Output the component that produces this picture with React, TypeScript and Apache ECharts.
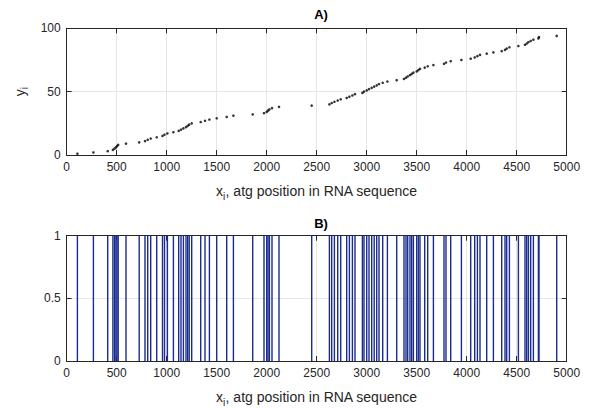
import React, { useEffect, useRef } from "react";
import * as echarts from "echarts";

const positions: number[] = [
  107, 267, 410, 462, 478, 492, 503, 515, 593, 725,
  783, 810, 840, 900, 958, 978, 1007, 1067, 1120, 1143,
  1167, 1193, 1210, 1225, 1250, 1340, 1383, 1427, 1500, 1600,
  1667, 1860, 1973, 2000, 2013, 2027, 2053, 2123, 2450, 2627,
  2650, 2677, 2710, 2740, 2800, 2827, 2857, 2883, 2957, 2973,
  3000, 3023, 3050, 3075, 3100, 3123, 3160, 3207, 3300, 3373,
  3393, 3410, 3433, 3450, 3467, 3500, 3517, 3533, 3580, 3610,
  3667, 3773, 3793, 3840, 3947, 4040, 4080, 4107, 4133, 4200,
  4267, 4350, 4383, 4400, 4427, 4517, 4583, 4600, 4617, 4640,
  4667, 4717, 4723, 4900,
];
const indices: number[] = positions.map((_, i) => i + 1);
const xTicks: number[] = [0, 500, 1000, 1500, 2000, 2500, 3000, 3500, 4000, 4500, 5000];
const titles: string[] = ["A)", "B)"];
const xLabel = "atg position in RNA sequence";

const FONT = "Liberation Sans, Arial, Helvetica, sans-serif";
const TXT = "#262626";
const GRIDC = "#e6e6e6";

export default function App() {
  const ref = useRef<HTMLDivElement>(null);
  useEffect(() => {
    if (!ref.current) return;
    const chart = echarts.init(ref.current, undefined, { renderer: "svg" });
    const scatterData = positions.map((x, i) => [x, indices[i]]);
    const stemData = positions.map((x) => [x, 1]);

    const baseX = (gi: number, pos: "bottom" | "top", main: boolean) => ({
      type: "value",
      gridIndex: gi,
      position: pos,
      min: xTicks[0],
      max: xTicks[xTicks.length - 1],
      interval: 500,
      axisLine: { show: true, onZero: false, lineStyle: { color: TXT, width: 1 } },
      axisTick: { show: true, inside: true, length: 5, lineStyle: { color: TXT } },
      axisLabel: main
        ? { show: true, color: TXT, fontSize: 12, fontFamily: FONT, margin: 6, formatter: (v: number) => String(v) }
        : { show: false },
      splitLine: main ? { show: true, lineStyle: { color: GRIDC, width: 1 } } : { show: false },
      name: main ? "x{s|i}, " + xLabel : "",
      nameLocation: "middle",
      nameGap: 26,
      nameTextStyle: {
        color: TXT,
        fontSize: 14,
        fontFamily: FONT,
        rich: { s: { fontSize: 10, color: TXT, fontFamily: FONT, verticalAlign: "bottom", padding: [10, 0, 0, 0] } },
      },
    });

    const baseY = (gi: number, pos: "left" | "right", main: boolean, max: number, interval: number, name: string) => ({
      type: "value",
      gridIndex: gi,
      position: pos,
      min: 0,
      max,
      interval,
      axisLine: { show: true, onZero: false, lineStyle: { color: TXT, width: 1 } },
      axisTick: { show: true, inside: true, length: 5, lineStyle: { color: TXT } },
      axisLabel: main
        ? { show: true, color: TXT, fontSize: 12, fontFamily: FONT, margin: 6, formatter: (v: number) => String(v) }
        : { show: false },
      splitLine: main ? { show: true, lineStyle: { color: GRIDC, width: 1 } } : { show: false },
      name: main ? name : "",
      nameLocation: "middle",
      nameGap: 37,
      nameRotate: 90,
      nameTextStyle: {
        color: TXT,
        fontSize: 14,
        fontFamily: FONT,
        rich: { s: { fontSize: 10, color: TXT, fontFamily: FONT, verticalAlign: "bottom", padding: [10, 0, 0, 0] } },
      },
    });

    chart.setOption({
      animation: false,
      backgroundColor: "#ffffff",
      title: [
        { text: titles[0], left: 316, top: 3, textAlign: "center", textStyle: { fontSize: 13, fontWeight: "bold", color: "#000", fontFamily: FONT } },
        { text: titles[1], left: 316, top: 212, textAlign: "center", textStyle: { fontSize: 13, fontWeight: "bold", color: "#000", fontFamily: FONT } },
      ],
      grid: [
        { left: 66.7, right: 27.3, top: 28.3, height: 126.7 },
        { left: 66.7, right: 27.3, top: 235.7, height: 127 },
      ],
      xAxis: [baseX(0, "bottom", true), baseX(0, "top", false), baseX(1, "bottom", true), baseX(1, "top", false)],
      yAxis: [
        baseY(0, "left", true, 100, 50, "y{s|i}"),
        baseY(0, "right", false, 100, 50, ""),
        baseY(1, "left", true, 1, 0.5, ""),
        baseY(1, "right", false, 1, 0.5, ""),
      ],
      series: [
        {
          type: "scatter",
          xAxisIndex: 0,
          yAxisIndex: 0,
          data: scatterData,
          symbol: "circle",
          symbolSize: 2.6,
          itemStyle: { color: "#000" },
          z: 5,
        },
        {
          type: "custom",
          xAxisIndex: 2,
          yAxisIndex: 2,
          data: stemData,
          renderItem: (params: any, api: any) => {
            const p0 = api.coord([api.value(0), 0]);
            const p1 = api.coord([api.value(0), api.value(1)]);
            return {
              type: "line",
              shape: { x1: p0[0], y1: p0[1], x2: p1[0], y2: p1[1] },
              style: { stroke: "#1a2d8f", lineWidth: 1.4 },
            };
          },
          z: 5,
        },
      ],
    });
    return () => chart.dispose();
  }, []);
  return (
    <div
      ref={ref}
      style={{ position: "fixed", left: 0, top: 0, width: 594, height: 408, background: "#fff" }}
    />
  );
}
